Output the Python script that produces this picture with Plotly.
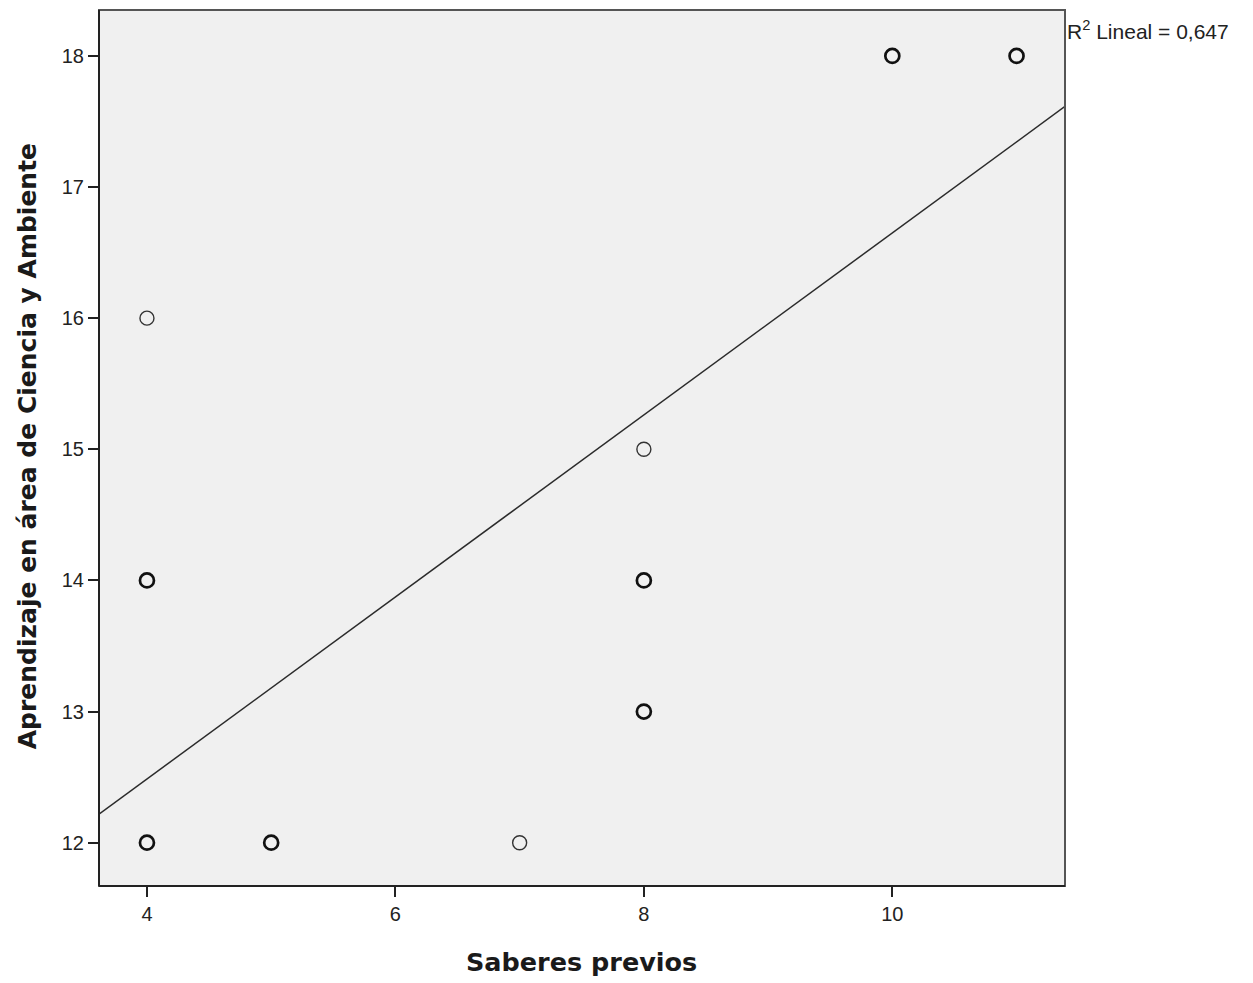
import plotly.graph_objects as go

# Data
x_single = [4, 8, 7]
y_single = [16, 15, 12]
x_multi = [4, 4, 5, 8, 8, 10, 11]
y_multi = [14, 12, 12, 14, 13, 18, 18]

fit_intercept = 9.71
fit_slope = 0.694
r2_label = "R<sup>2</sup> Lineal = 0,647"
x_title = "<b>Saberes previos</b>"
y_title = "<b>Aprendizaje en área de Ciencia y Ambiente</b>"

x_range = [3.614, 11.39]
y_range = [11.67, 18.35]
x_ticks = [4, 6, 8, 10]
y_ticks = [12, 13, 14, 15, 16, 17, 18]

fig = go.Figure()

fig.add_trace(go.Scatter(
    x=x_range, y=[fit_intercept + fit_slope * v for v in x_range],
    mode="lines", line=dict(color="#2b2b2b", width=1.5), hoverinfo="skip"))

fig.add_trace(go.Scatter(
    x=x_single, y=y_single, mode="markers",
    marker=dict(symbol="circle-open", size=14, color="#333333", line=dict(width=1.4))))

fig.add_trace(go.Scatter(
    x=x_multi, y=y_multi, mode="markers",
    marker=dict(symbol="circle-open", size=14, color="#111111", line=dict(width=2.7))))

tickfont = dict(family="Liberation Sans, Arial, sans-serif", size=20, color="#222222")

fig.update_layout(
    width=1253, height=983,
    margin=dict(l=99, r=188, t=10, b=97),
    paper_bgcolor="white", plot_bgcolor="#f0f0f0",
    showlegend=False,
    font=dict(family="Liberation Sans, Arial, sans-serif", color="#222222", size=15),
    xaxis=dict(range=x_range, tickvals=x_ticks, showgrid=False, zeroline=False,
               ticks="outside", ticklen=10, tickcolor="#222222", tickwidth=1.5,
               showline=False, tickfont=tickfont),
    yaxis=dict(range=y_range, tickvals=y_ticks, showgrid=False, zeroline=False,
               ticks="outside", ticklen=10, tickcolor="#222222", tickwidth=1.5,
               showline=False, tickfont=tickfont),
)

fig.add_shape(type="rect", xref="paper", yref="paper", x0=0, y0=0, x1=1, y1=1,
              line=dict(color="#555555", width=2))
fig.add_shape(type="line", xref="paper", yref="paper", x0=0, y0=0, x1=1, y1=0,
              line=dict(color="#222222", width=2))
fig.add_shape(type="line", xref="paper", yref="paper", x0=0, y0=0, x1=0, y1=1,
              line=dict(color="#222222", width=2))

title_font = dict(family="DejaVu Sans, Verdana, sans-serif", size=25, color="#1a1a1a")
fig.add_annotation(xref="paper", yref="paper", x=0.499, y=-0.0868, xanchor="center",
                   yanchor="middle", text=x_title, showarrow=False,
                   font=dict(family="DejaVu Sans, Verdana, sans-serif", size=25.5, color="#1a1a1a"))
fig.add_annotation(xref="paper", yref="paper", x=-0.0745, y=0.502, xanchor="center",
                   yanchor="middle", text=y_title, showarrow=False, textangle=-90,
                   font=title_font)

fig.add_annotation(xref="paper", yref="y", x=1.0, y=18.2, xanchor="left", yanchor="middle",
                   text=r2_label, showarrow=False,
                   font=dict(family="Liberation Sans, Arial, sans-serif", size=21, color="#222222"))

fig.write_html("out.html")
